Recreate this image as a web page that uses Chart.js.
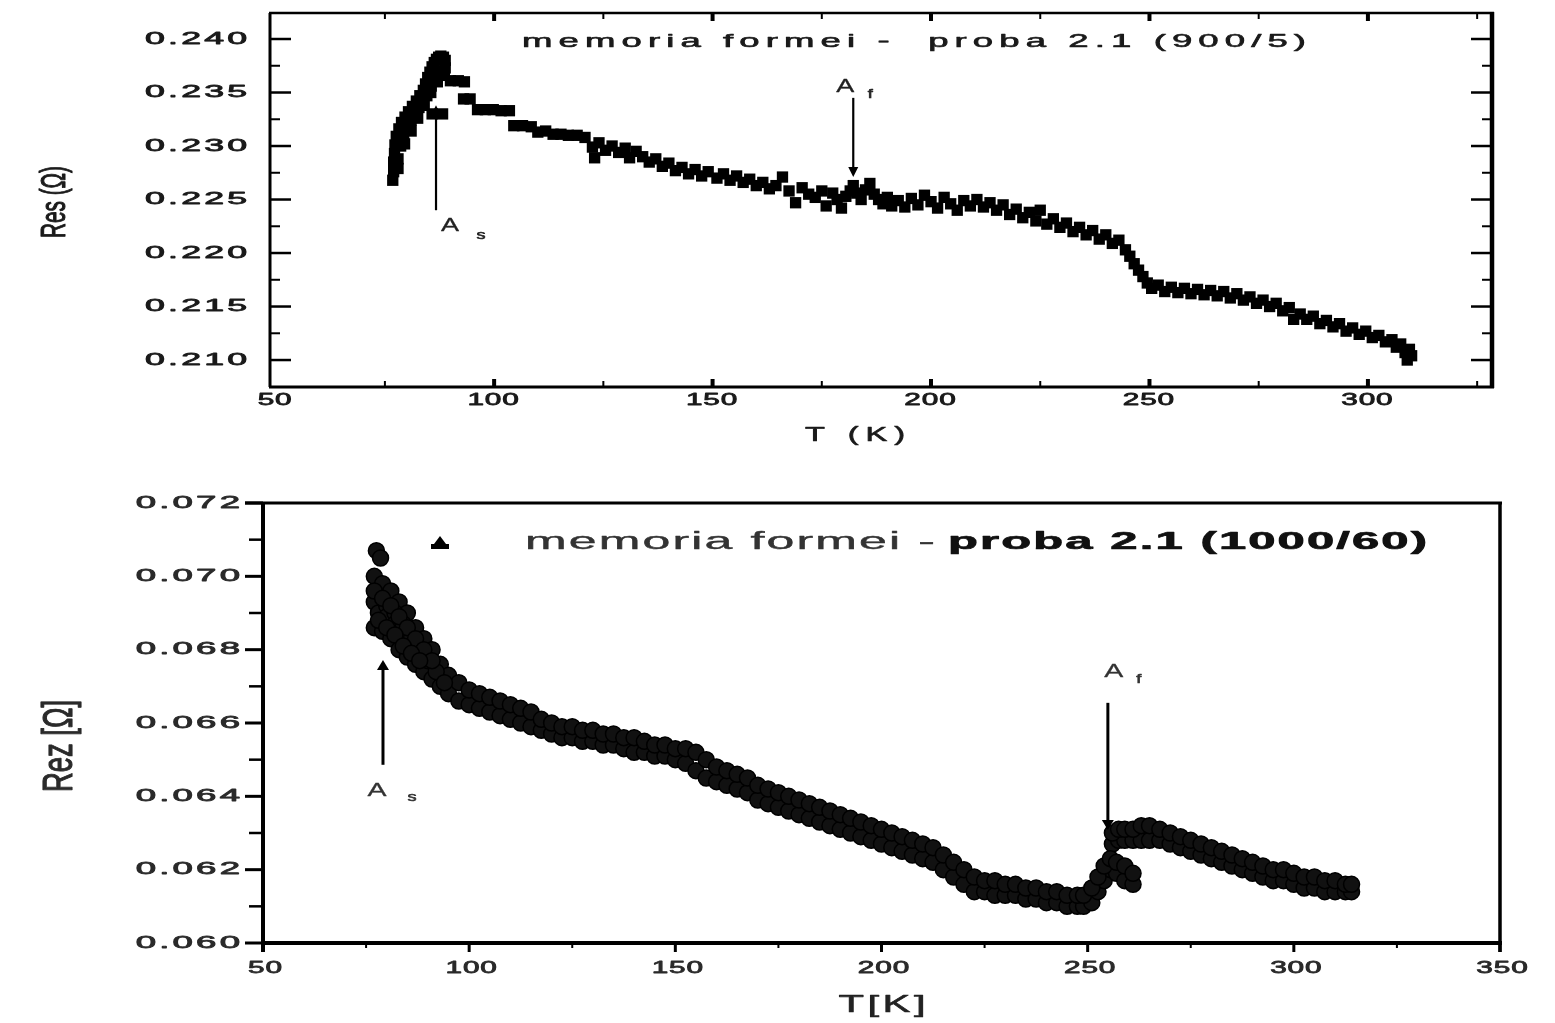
<!DOCTYPE html>
<html><head><meta charset="utf-8">
<script src="https://cdn.jsdelivr.net/npm/chart.js"></script>
<style>
html,body{margin:0;padding:0;background:#fff;width:1555px;height:1023px;overflow:hidden}
canvas{position:absolute;left:0}
#c1{top:0}
#c2{top:460px}
</style></head><body>
<canvas id="c1" width="1555" height="460"></canvas>
<canvas id="c2" width="1555" height="563"></canvas>
<script>
// ---------------- DATA ----------------
// Top chart: memoria formei - proba 2.1 (900/5)
const topTitle = 'memoria formei -  proba 2.1 (900/5)';
const topXTicks = [50,100,150,200,250,300];
const topXMinor = [75,125,175,225,275,325];
const topYTicks = [0.210,0.215,0.220,0.225,0.230,0.235,0.240];
const topYMinor = [0.2125,0.2175,0.2225,0.2275,0.2325,0.2375];
const topT = [
 76.8,77.0,77.0,77.2,77.3,77.6,78.0,78.2,78.6,78.8,
 79.3,79.6,80.2,80.4,81.0,81.3,81.8,82.2,82.8,83.0,
 83.6,83.8,84.3,84.6,84.8,85.3,85.6,85.8,86.3,86.8,
 87.3,87.8,88.4,88.8,88.8,88.6,86.5,87.6,85.8,88.2,
 90.0,91.8,93.2,93.0,94.5,96.2,98.0,99.8,101.6,103.5,
 104.5,106.5,108.5,110.0,111.8,113.5,115.3,117.0,119.0,120.8,
 122.5,123.0,124.0,125.5,127.0,128.5,130.0,131.0,132.5,134.0,
 135.5,137.0,138.5,140.0,141.5,143.0,144.5,146.0,147.5,149.0,
 151.0,152.5,154.0,155.5,157.0,158.5,160.0,161.5,163.0,164.5,
 166.0,167.5,169.0,170.5,172.0,173.5,175.0,176.0,177.5,178.5,
 179.5,180.5,181.5,182.2,183.0,184.0,185.0,186.0,187.0,188.0,
 189.0,190.0,191.0,192.5,194.0,195.5,197.0,198.5,200.0,201.5,
 203.0,204.5,206.0,207.5,209.0,210.5,212.0,213.5,215.0,216.5,
 218.0,219.5,221.0,222.5,224.0,225.0,226.5,228.0,229.5,231.0,
 232.5,234.0,235.5,237.0,238.5,240.0,241.5,243.0,244.5,245.5,
 246.5,247.5,248.5,249.5,250.5,252.0,253.5,255.0,256.5,258.0,
 259.5,261.0,262.5,264.0,265.5,267.0,268.5,270.0,271.5,273.0,
 274.5,276.0,277.5,279.0,280.5,282.0,283.0,284.5,286.0,287.5,
 289.0,290.5,292.0,293.5,295.0,296.5,298.0,299.5,301.0,302.5,
 304.0,305.5,306.5,307.5,308.5,309.5,309.0,310.0,
 78.0,79.5,81.0,82.5,84.0,85.5,87.0
];
const topR = [
 0.2268,0.2276,0.2285,0.2293,0.2301,0.2309,0.2288,0.2316,0.2300,0.2322,
 0.2310,0.2327,0.2318,0.2332,0.2324,0.2337,0.2330,0.2342,0.2336,0.2347,
 0.2341,0.2352,0.2358,0.2347,0.2364,0.2369,0.2356,0.2374,0.2378,0.2381,
 0.2383,0.2384,0.2383,0.2380,0.2373,0.2366,0.2366,0.2370,0.2330,0.2330,
 0.2361,0.2361,0.2360,0.2344,0.2344,0.2334,0.2334,0.2334,0.2333,0.2333,
 0.2319,0.2319,0.2318,0.2313,0.2314,0.2311,0.2311,0.2310,0.2310,0.2308,
 0.2299,0.2289,0.2303,0.2296,0.2300,0.2294,0.2298,0.2289,0.2295,0.2290,
 0.2285,0.2288,0.2281,0.2284,0.2277,0.2280,0.2274,0.2278,0.2272,0.2276,
 0.2270,0.2274,0.2268,0.2272,0.2266,0.2269,0.2263,0.2266,0.2260,0.2263,
 0.2271,0.2258,0.2247,0.2261,0.2255,0.2252,0.2258,0.2244,0.2256,0.2250,
 0.2242,0.2253,0.2258,0.2263,0.2256,0.2250,0.2259,0.2265,0.2255,0.2250,
 0.2246,0.2252,0.2244,0.2249,0.2243,0.2251,0.2245,0.2254,0.2248,0.2242,
 0.2252,0.2246,0.2240,0.2249,0.2244,0.2250,0.2243,0.2247,0.2240,0.2245,
 0.2236,0.2241,0.2233,0.2238,0.2230,0.2240,0.2227,0.2232,0.2224,0.2228,
 0.2220,0.2224,0.2217,0.2221,0.2213,0.2217,0.2209,0.2212,0.2203,0.2197,
 0.2190,0.2184,0.2178,0.2172,0.2167,0.2170,0.2164,0.2168,0.2163,0.2167,
 0.2162,0.2166,0.2161,0.2165,0.2160,0.2164,0.2158,0.2162,0.2156,0.2159,
 0.2153,0.2156,0.2150,0.2153,0.2146,0.2149,0.2138,0.2143,0.2138,0.2141,
 0.2134,0.2137,0.2131,0.2134,0.2127,0.2130,0.2124,0.2127,0.2121,0.2123,
 0.2117,0.2119,0.2112,0.2115,0.2107,0.2110,0.2100,0.2104,
 0.2279,0.2302,0.2314,0.2326,0.2338,0.2350,0.2360
];

// Bottom chart: memoria formei - proba 2.1 (1000/60)
const botTitleA = 'memoria formei -';
const botTitleB = 'proba 2.1 (1000/60)';
const botXTicks = [50,100,150,200,250,300,350];
const botXMinor = [75,125,175,225,275,325];
const botYTicks = [0.060,0.062,0.064,0.066,0.068,0.070,0.072];
const botYMinor = [0.061,0.063,0.065,0.067,0.069,0.071];
const botT = [
 77,79,81,83,85,87,89,91,93,95,
 97.5,100,102.5,105,107.5,110,112.5,115,117.5,120,
 122.5,125,127.5,130,132.5,135,137.5,140,142.5,145,
 147.5,150,152.5,155,157.5,160,162.5,165,167.5,170,
 172.5,175,177.5,180,182.5,185,187.5,190,192.5,195,
 197.5,200,202.5,205,207.5,210,212.5,215,217.5,220,
 222.5,225,227.5,230,232.5,235,237.5,240,242.5,245,
 247.5,249,251,252.5,254,255.5,257,259,261,
 256,257.5,259,261,263,265,267.5,270,272.5,275,
 277.5,280,282.5,285,287.5,290,292.5,295,297.5,300,
 302.5,305,307.5,310,312.5,314
];
const botLow = [
 0.0686,0.0685,0.0683,0.0680,0.0678,0.0676,0.0674,0.0672,0.0670,0.0668,
 0.0666,0.0665,0.0664,0.0663,0.0662,0.0661,0.0660,0.0659,0.0658,0.0657,
 0.0656,0.0656,0.0655,0.0655,0.0654,0.0654,0.0653,0.0652,0.0652,0.0651,
 0.0651,0.0650,0.0649,0.0647,0.0645,0.0644,0.0643,0.0642,0.0641,0.0639,
 0.0638,0.0637,0.0636,0.0635,0.0634,0.0633,0.0632,0.0631,0.0630,0.0629,
 0.0628,0.0627,0.0626,0.0625,0.0624,0.0623,0.0622,0.0620,0.0618,0.0616,
 0.0614,0.0614,0.0613,0.0613,0.0613,0.0612,0.0612,0.0611,0.0611,0.0610,
 0.0610,0.0610,0.0611,0.0614,0.0617,0.0620,0.0619,0.0617,0.0616,
 0.0627,0.0628,0.0628,0.0628,0.0628,0.0628,0.0628,0.0627,0.0626,0.0625,
 0.0624,0.0623,0.0622,0.0621,0.0620,0.0619,0.0618,0.0617,0.0617,0.0616,
 0.0615,0.0615,0.0614,0.0614,0.0614,0.0614
];
const botHigh = [
 0.0700,0.0698,0.0696,0.0693,0.0690,0.0686,0.0683,0.0680,0.0676,0.0673,
 0.0671,0.0669,0.0668,0.0667,0.0666,0.0665,0.0664,0.0663,0.0661,0.0660,
 0.0659,0.0659,0.0658,0.0658,0.0657,0.0657,0.0656,0.0656,0.0655,0.0654,
 0.0654,0.0653,0.0653,0.0652,0.0650,0.0648,0.0647,0.0646,0.0645,0.0643,
 0.0642,0.0641,0.0640,0.0639,0.0638,0.0637,0.0636,0.0635,0.0634,0.0633,
 0.0632,0.0631,0.0630,0.0629,0.0628,0.0627,0.0626,0.0624,0.0622,0.0620,
 0.0618,0.0617,0.0617,0.0616,0.0616,0.0615,0.0615,0.0614,0.0614,0.0613,
 0.0613,0.0613,0.0615,0.0618,0.0621,0.0623,0.0622,0.0621,0.0619,
 0.0630,0.0631,0.0631,0.0631,0.0632,0.0632,0.0631,0.0630,0.0629,0.0628,
 0.0627,0.0626,0.0625,0.0624,0.0623,0.0622,0.0621,0.0620,0.0620,0.0619,
 0.0618,0.0618,0.0617,0.0617,0.0616,0.0616
];
const botExtraT = [77.5,78.5,77,78,80,80,82,82,84,84,86,88,90,92,94,
 77,79,81,83,85,87,89,91,78,80,82,84,86,88];
const botExtraR = [0.0707,0.0705,0.0693,0.0690,0.0692,0.0689,0.0690,0.0687,0.0687,0.0684,0.0683,0.0679,0.0677,0.0674,0.0671,
 0.0696,0.0694,0.0692,0.0689,0.0686,0.0683,0.0680,0.0677,0.0688,0.0686,0.0684,0.0681,0.0679,0.0677];

// Annotation arrows (data coordinates)
const topArrows = [
  {T:86.7, from:0.2240, to:0.2338, label:'A', sub:'s', ax:14, ay:16, sx:45, sy:25},
  {T:182.2, from:0.2345, to:0.2271, label:'A', sub:'f', ax:-8, ay:-11, sx:17, sy:-3}
];
const botArrows = [
  {T:79.1, from:0.06486, to:0.06772, label:'A', sub:'s', ax:-6, ay:26, sx:29, sy:33},
  {T:254.9, from:0.06655, to:0.06308, label:'A', sub:'f', ax:6, ay:-31, sx:31, sy:-23}
];

// ---------------- HELPERS ----------------
const FONT = '"Liberation Sans", Arial, sans-serif';
function txt(ctx, s, x, y, o) {
  ctx.save();
  ctx.font = (o.weight || 'normal') + ' ' + o.size + 'px ' + FONT;
  ctx.letterSpacing = (o.ls || 0) + 'px';
  ctx.fillStyle = o.color || '#111';
  ctx.strokeStyle = o.color || '#111';
  ctx.textBaseline = 'middle';
  ctx.textAlign = 'left';
  const w = ctx.measureText(s).width - (o.ls || 0);
  let sx = o.sx || 1;
  if (o.width) sx = o.width / w;
  ctx.translate(x, y);
  if (o.rot) ctx.rotate(o.rot);
  ctx.scale(sx, o.sy || 1);
  const dx = o.align === 'center' ? -w / 2 : o.align === 'right' ? -w : 0;
  ctx.fillText(s, dx, 0);
  if (o.stroke) { ctx.lineWidth = o.stroke; ctx.lineJoin = 'round'; ctx.strokeText(s, dx, 0); }
  ctx.restore();
}
function seg(ctx, x0, y0, x1, y1, w) {
  ctx.lineWidth = w; ctx.beginPath(); ctx.moveTo(x0, y0); ctx.lineTo(x1, y1); ctx.stroke();
}
function vArrow(ctx, xs, ys, a, lw, head, hw) {
  const x = xs.getPixelForValue(a.T), y0 = ys.getPixelForValue(a.from), y1 = ys.getPixelForValue(a.to);
  const dir = y1 < y0 ? -1 : 1;
  seg(ctx, x, y0, x, y1 - dir * head * 0.6, lw);
  ctx.beginPath(); ctx.moveTo(x, y1); ctx.lineTo(x - hw, y1 - dir * head); ctx.lineTo(x + hw, y1 - dir * head);
  ctx.closePath(); ctx.fill();
  return {x, y0};
}
function pts(T, R) { return T.map((t, i) => ({x: t, y: R[i]})); }
function opts(xmin, xmax, ymin, ymax, yw, xh, pad) {
  return {
    responsive: false, animation: false, events: [],
    layout: {padding: pad},
    plugins: {legend: {display: false}, tooltip: {enabled: false}},
    scales: {
      x: {type: 'linear', min: xmin, max: xmax, grid: {display: false}, border: {display: false},
          ticks: {display: false}, afterFit(s) { s.height = xh; }},
      y: {type: 'linear', min: ymin, max: ymax, grid: {display: false}, border: {display: false},
          ticks: {display: false}, afterFit(s) { s.width = yw; }}
    }
  };
}

// ---------------- TOP CHART ----------------
const topDecor = {
  id: 'topDecor',
  afterDatasetsDraw(chart) {
    const ctx = chart.ctx, a = chart.chartArea, xs = chart.scales.x, ys = chart.scales.y;
    ctx.save();
    ctx.strokeStyle = '#000'; ctx.fillStyle = '#000';
    topYTicks.forEach(v => { const p = ys.getPixelForValue(v); seg(ctx, a.left, p, a.left + 21, p, 2.5); seg(ctx, a.right, p, a.right - 21, p, 2.5); });
    topYMinor.forEach(v => { const p = ys.getPixelForValue(v); seg(ctx, a.left, p, a.left + 10, p, 2); seg(ctx, a.right, p, a.right - 10, p, 2); });
    topXTicks.forEach(v => { if (v <= xs.min + 2) return; const p = xs.getPixelForValue(v); seg(ctx, p, a.top, p, a.top + 8, 4); seg(ctx, p, a.bottom, p, a.bottom - 8, 4); });
    topXMinor.forEach(v => { const p = xs.getPixelForValue(v); seg(ctx, p, a.top, p, a.top + 6, 2); seg(ctx, p, a.bottom, p, a.bottom - 6, 2); });
    seg(ctx, a.left - 1, a.top, a.right + 2, a.top, 2.5);
    seg(ctx, a.left - 1, a.bottom, a.right + 2, a.bottom, 3);
    seg(ctx, a.left, a.top, a.left, a.bottom, 3);
    seg(ctx, a.right, a.top - 1, a.right, a.bottom + 1, 4.5);
    // tick labels
    topYTicks.forEach(v => txt(ctx, v.toFixed(3), 247, ys.getPixelForValue(v), {size: 17, ls: 1.5, sx: 2.1, align: 'right', color: '#1a1a1a', stroke: 0.8}));
    topXTicks.forEach(v => txt(ctx, String(v), xs.getPixelForValue(v) - 1, 400, {size: 17, ls: 0.5, sx: 1.75, align: 'center', color: '#1a1a1a', stroke: 0.8}));
    // axis titles
    txt(ctx, 'T (K)', 855, 435, {size: 19, ls: 4, width: 100, sy: 1.1, align: 'center', color: '#1a1a1a', stroke: 0.6});
    txt(ctx, 'Res (Ω)', 56, 202, {size: 19, width: 72, sy: 1.8, rot: -Math.PI / 2, align: 'center', color: '#1a1a1a', stroke: 0.6});
    // title
    txt(ctx, topTitle, 522, 42, {size: 18, ls: 3, width: 784, color: '#1a1a1a', stroke: 0.6});
    // arrows
    topArrows.forEach(ar => {
      const p = vArrow(ctx, xs, ys, ar, 2.2, 10, 5);
      txt(ctx, ar.label, p.x + ar.ax, p.y0 + ar.ay, {size: 18, sx: 1.5, align: 'center', color: '#222', stroke: 0.3});
      txt(ctx, ar.sub, p.x + ar.sx, p.y0 + ar.sy, {size: 12, sx: 1.5, align: 'center', color: '#222', stroke: 0.6});
    });
    ctx.restore();
  }
};
new Chart(document.getElementById('c1'), {
  type: 'scatter',
  data: {datasets: [{data: pts(topT, topR), showLine: false, pointStyle: 'rect', pointRadius: 8,
    pointBackgroundColor: '#000', pointBorderWidth: 0}]},
  options: opts(48.7, 328.4, 0.20748, 0.24243, 270, 73, {top: 13, right: 63, left: 0, bottom: 0}),
  plugins: [topDecor]
});

// ---------------- BOTTOM CHART ----------------
const botDecor = {
  id: 'botDecor',
  afterDatasetsDraw(chart) {
    const ctx = chart.ctx, a = chart.chartArea, xs = chart.scales.x, ys = chart.scales.y;
    ctx.save();
    ctx.strokeStyle = '#000'; ctx.fillStyle = '#000';
    botYTicks.forEach(v => { const p = ys.getPixelForValue(v); seg(ctx, a.left, p, a.left - 18, p, 3); });
    botYMinor.forEach(v => { const p = ys.getPixelForValue(v); seg(ctx, a.left, p, a.left - 14, p, 2.5); });
    botXTicks.forEach(v => { const p = xs.getPixelForValue(v); seg(ctx, p, a.bottom, p, a.bottom + 9, 3); });
    botXMinor.forEach(v => { const p = xs.getPixelForValue(v); seg(ctx, p, a.bottom, p, a.bottom + 5, 2); });
    seg(ctx, a.left - 18, a.top, a.right + 2, a.top, 3);
    seg(ctx, a.left - 2, a.bottom, a.right + 2, a.bottom, 4);
    seg(ctx, a.left, a.top, a.left, a.bottom + 9, 4);
    seg(ctx, a.right, a.top - 1, a.right, a.bottom + 9, 3.5);
    botYTicks.forEach(v => txt(ctx, v.toFixed(3), 240, ys.getPixelForValue(v), {size: 17, ls: 1.5, sx: 2.15, align: 'right', color: '#2a2a2a', stroke: 0.8}));
    botXTicks.forEach(v => txt(ctx, String(v), xs.getPixelForValue(v) + 2, 508, {size: 17, ls: 0.5, sx: 1.75, align: 'center', color: '#2a2a2a', stroke: 0.8}));
    txt(ctx, 'T[K]', 882, 545, {size: 24, ls: 2, width: 87, align: 'center', color: '#222', stroke: 0.6});
    txt(ctx, 'Rez [Ω]', 60, 286, {size: 22, width: 92, sy: 1.9, rot: -Math.PI / 2, align: 'center', color: '#2a2a2a', stroke: 0.6});
    // legend symbol + title
    ctx.beginPath(); ctx.moveTo(440, 76); ctx.lineTo(449, 88); ctx.lineTo(431, 88); ctx.closePath(); ctx.fill();
    ctx.fillRect(431, 84, 18, 5);
    txt(ctx, botTitleA, 525, 83, {size: 23, ls: 1, width: 410, color: '#333', stroke: 0.4});
    txt(ctx, botTitleB, 948, 83, {size: 23, weight: 'bold', ls: 1, width: 479, color: '#111', stroke: 0.7});
    botArrows.forEach(ar => {
      const p = vArrow(ctx, xs, ys, ar, 3, 10, 6);
      txt(ctx, ar.label, p.x + ar.ax, p.y0 + ar.ay, {size: 19, sx: 1.5, align: 'center', color: '#333', stroke: 0.3});
      txt(ctx, ar.sub, p.x + ar.sx, p.y0 + ar.sy, {size: 13, sx: 1.4, align: 'center', color: '#333', stroke: 0.6});
    });
    ctx.restore();
  }
};
const botPoints = pts(botT, botLow).concat(pts(botT, botHigh), pts(botExtraT, botExtraR));
new Chart(document.getElementById('c2'), {
  type: 'scatter',
  data: {datasets: [{data: botPoints, showLine: false, pointStyle: 'circle', pointRadius: 8,
    pointBackgroundColor: '#111', pointBorderColor: '#000', pointBorderWidth: 1.5}]},
  options: opts(50, 350, 0.060, 0.072, 263, 80, {top: 43, right: 55, left: 0, bottom: 0}),
  plugins: [botDecor]
});
</script>
</body></html>
